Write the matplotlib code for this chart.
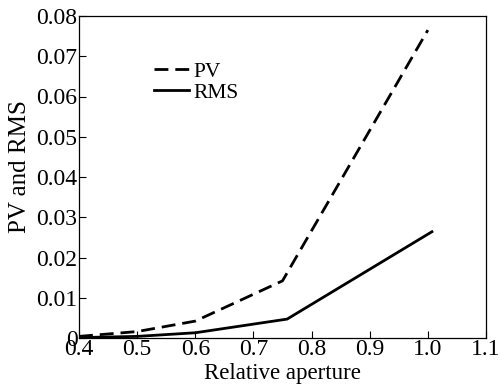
import matplotlib
matplotlib.use("Agg")
import matplotlib.pyplot as plt

# data
aperture_pv = [0.4, 0.5, 0.6, 0.75, 1.0]
pv = [0.0004, 0.0016, 0.0042, 0.0142, 0.0765]
aperture_rms = [0.4, 0.5, 0.6, 0.758, 1.007]
rms = [0.0001, 0.0004, 0.0013, 0.0047, 0.0264]

xticks = [0.4, 0.5, 0.6, 0.7, 0.8, 0.9, 1.0, 1.1]
xtick_labels = ["0.4", "0.5", "0.6", "0.7", "0.8", "0.9", "1.0", "1.1"]
yticks = [0, 0.01, 0.02, 0.03, 0.04, 0.05, 0.06, 0.07, 0.08]
ytick_labels = ["0", "0.01", "0.02", "0.03", "0.04", "0.05", "0.06", "0.07", "0.08"]

plt.rcParams["font.family"] = "Liberation Serif"
plt.rcParams["font.size"] = 15.5

fig = plt.figure(figsize=(5.01, 3.85), dpi=100)
ax = fig.add_axes([79 / 501, 1 - 338 / 385, 407 / 501, 322 / 385])

ax.plot(aperture_pv, pv, color="black", linewidth=2, linestyle=(0, (5, 2.5)), label="PV")
ax.plot(aperture_rms, rms, color="black", linewidth=2, label="RMS")

ax.set_xlim(0.4, 1.1)
ax.set_ylim(0, 0.08)
ax.set_xticks(xticks)
ax.set_xticklabels(xtick_labels)
ax.set_yticks(yticks)
ax.set_yticklabels(ytick_labels)
ax.tick_params(direction="in", length=5, width=0.8, pad=1, labelsize=17)
for s in ax.spines.values():
    s.set_linewidth(0.9)

ax.set_xlabel("Relative aperture", fontsize=16.5, labelpad=2)
ax.set_ylabel("PV and RMS", fontsize=18)
ax.yaxis.set_label_coords(-0.118, 0.531)

ax.legend(loc="upper left", bbox_to_anchor=(0.162, 0.885), frameon=False,
          handlelength=1.65, handletextpad=0.2, labelspacing=0.05, borderaxespad=0)

fig.savefig("out.png", dpi=100)
